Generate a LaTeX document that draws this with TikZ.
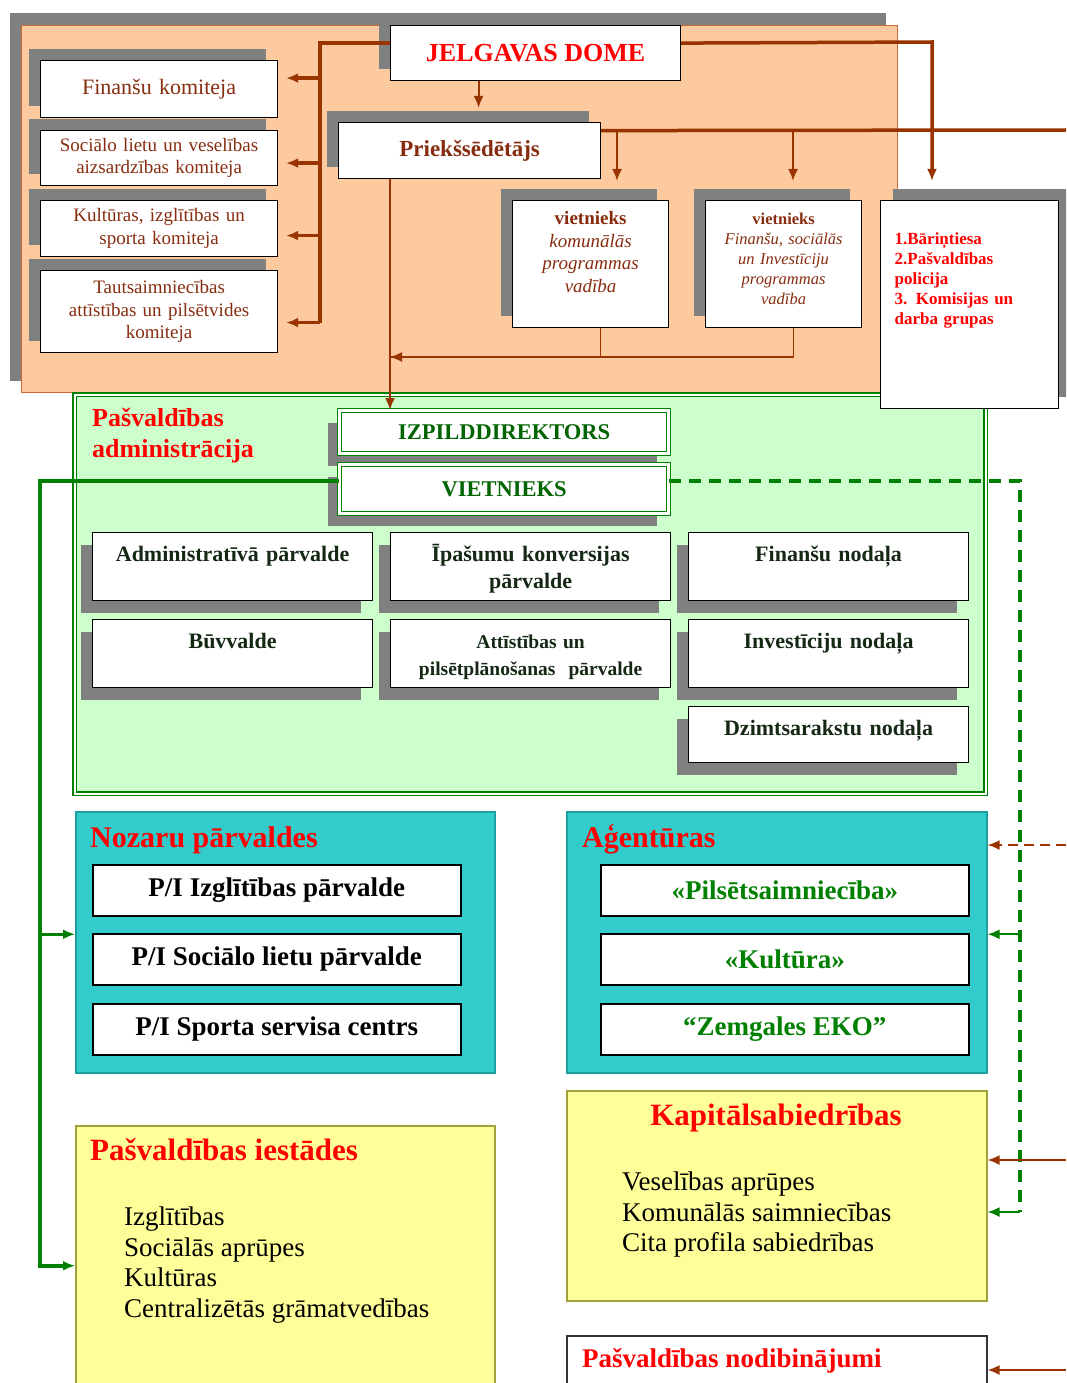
\documentclass[tikz,border=0pt]{standalone}
\usepackage{fontspec}
\setmainfont{Liberation Serif}
\usetikzlibrary{arrows.meta,positioning,shadows}

\definecolor{dombrown}{RGB}{153,51,0}
\definecolor{textbrown}{RGB}{135,45,15}
\definecolor{peach}{RGB}{252,202,158}
\definecolor{peachline}{RGB}{205,105,50}
\definecolor{shadowgray}{RGB}{128,128,128}
\definecolor{admgreen}{RGB}{204,255,204}
\definecolor{linegreen}{RGB}{0,128,0}
\definecolor{darkgreen}{RGB}{0,100,0}
\definecolor{admtext}{RGB}{20,40,20}
\definecolor{tealbg}{RGB}{51,204,204}
\definecolor{tealline}{RGB}{30,160,160}
\definecolor{paleyellow}{RGB}{255,255,153}
\definecolor{yellowline}{RGB}{160,160,60}
\definecolor{headred}{RGB}{255,0,0}

\tikzset{%
  >={Latex[width=10pt,length=12pt]},
  % Specifications for style of nodes:
        upshadow/.style = {general shadow={fill=shadowgray,
                           shadow xshift=-12pt, shadow yshift=12pt}},
      downshadow/.style = {general shadow={fill=shadowgray,
                           shadow xshift=-12pt, shadow yshift=-12pt}},
     rightshadow/.style = {general shadow={fill=shadowgray,
                           shadow xshift=12pt, shadow yshift=12pt}},
            base/.style = {rectangle, draw=black, fill=white, line width=1.2pt,
                           anchor=north west, align=center, inner sep=4pt},
          region/.style = {rectangle, anchor=north west, line width=1.5pt},
         council/.style = {base, upshadow, text=headred,
                           font=\fontsize{26}{30}\selectfont\bfseries},
           chair/.style = {base, upshadow, text=textbrown,
                           font=\fontsize{23}{27}\selectfont\bfseries},
        komiteja/.style = {base, upshadow, minimum width=237pt, text width=225pt,
                           text=textbrown, font=\fontsize{19}{22.5}\selectfont},
       vietnieks/.style = {base, upshadow, text width=148pt, text height=20pt,
                           text depth=99pt, text=textbrown},
             adm/.style = {base, downshadow, text width=270pt, inner sep=5pt,
                           text height=24pt, text depth=34pt, text=admtext,
                           font=\fontsize{22}{27}\selectfont\bfseries},
           chief/.style = {base, downshadow, draw=linegreen, double=white,
                           double distance=2.5pt, minimum width=329pt,
                           text=darkgreen,
                           font=\fontsize{22.5}{27}\selectfont\bfseries},
            unit/.style = {base, minimum width=368pt, minimum height=51pt,
                           line width=1.5pt,
                           font=\fontsize{27}{30}\selectfont\bfseries},
         heading/.style = {anchor=base west, inner sep=0pt, text=headred,
                           font=\fontsize{30}{33}\selectfont\bfseries},
            list/.style = {anchor=north west, inner sep=0pt, align=left,
                           font=\fontsize{27}{30.5}\selectfont},
  % Specifications for style of connectors:
       brownline/.style = {dombrown, line width=3.5pt},
        brownmid/.style = {dombrown, line width=2.2pt},
       brownthin/.style = {dombrown, line width=1.2pt},
       browndash/.style = {dombrown, line width=2.2pt, dash pattern=on 10pt off 6pt},
       greenline/.style = {linegreen, line width=3.5pt},
       greenstub/.style = {linegreen, line width=2.2pt},
       greendash/.style = {linegreen, line width=3.5pt, dash pattern=on 12pt off 8pt},
}

\begin{document}
\begin{tikzpicture}[x=1pt, y=-1pt]
\useasboundingbox (0,0) rectangle (1066,1383);
\clip (0,0) rectangle (1066,1383);

% dome
\node (DA) [region, upshadow, fill=peach, draw=peachline, line width=1pt,
            minimum width=876pt, minimum height=367pt] at (21,25) {};

\node (JD) [council, minimum width=290pt, minimum height=55pt] at (390,25) {JELGAVAS DOME};

\node (FK) [komiteja, minimum height=57pt, font=\fontsize{22}{26}\selectfont] at (40,60) {Finanšu komiteja};
\node (SK) [komiteja, minimum height=55pt] at (40,130) {Sociālo lietu un veselības\\aizsardzības komiteja};
\node (KK) [komiteja, minimum height=56pt] at (40,200) {Kultūras, izglītības un\\sporta komiteja};
\node (TK) [komiteja, minimum height=82pt] at (40,270) {Tautsaimniecības\\attīstības un pilsētvides\\komiteja};

\node (PR) [chair, minimum width=262pt, minimum height=56pt] at (338,122) {Priekšsēdētājs};

\node (VK) [vietnieks, font=\fontsize{19}{22.5}\selectfont] at (512,200)
      {\textbf{vietnieks}\\\textit{komunālās}\\\textit{programmas}\\\textit{vadība}};
\node (VF) [vietnieks, font=\fontsize{16.5}{20}\selectfont] at (705,200)
      {\textbf{vietnieks}\\\textit{Finanšu, sociālās}\\\textit{un Investīciju}\\\textit{programmas}\\\textit{vadība}};

\coordinate (KB) at (320,0);
\draw[brownline] ([yshift=10pt]JD.west) -| ([yshift=-11pt]TK.east -| KB);
\draw[brownline,->,shorten >=8pt] ([yshift=11pt]FK.east -| KB) -- ([yshift=11pt]FK.east);
\draw[brownline,->,shorten >=8pt] ([yshift=-5pt]SK.east -| KB) -- ([yshift=-5pt]SK.east);
\draw[brownline,->,shorten >=8pt] ([yshift=-7pt]KK.east -| KB) -- ([yshift=-7pt]KK.east);
\draw[brownline,->,shorten >=8pt] ([yshift=-11pt]TK.east -| KB) -- ([yshift=-11pt]TK.east);

\draw[brownmid,->,shorten >=14pt] ([xshift=9pt]PR.north |- JD.south) -- ([xshift=9pt]PR.north);

\coordinate (RT) at (1066,130);
\coordinate (V1) at (617,130);
\coordinate (V2) at (793,130);
\draw[brownline] ([yshift=20pt]PR.east) -- (RT);
\draw[brownmid,->,shorten >=19pt] (V1) -- (V1 |- VK.north);
\draw[brownmid,->,shorten >=19pt] (V2) -- (V2 |- VF.north);

\coordinate (VJ) at (390,357);
\draw[brownthin] ([xshift=10pt]VF.south) |- (VJ);
\draw[brownthin,->] ([xshift=10pt]VK.south) |- (VJ);

% administration
\node (PA) [region, fill=admgreen, draw=linegreen, line width=1.2pt, double=white,
            double distance=2pt, minimum width=911pt, minimum height=399pt] at (74,394) {};
\node (PAt) [heading, anchor=north west, align=left,
             font=\fontsize{26}{31}\selectfont\bfseries] at (92,408) {Pašvaldības\\administrācija};

\node (ID) [chief, minimum height=43pt] at (339,410) {IZPILDDIREKTORS};
\node (VN) [chief, minimum height=49pt] at (339,464) {VIETNIEKS};

\node (AP) [adm] at (92,532) {Administratīvā pārvalde};
\node (IP) [adm] at (390,532) {Īpašumu konversijas\\pārvalde};
\node (FN) [adm] at (688,532) {Finanšu nodaļa};
\node (BV) [adm] at (92,619) {Būvvalde};
\node (AT) [adm, font=\fontsize{19.5}{27}\selectfont\bfseries] at (390,619) {Attīstības un\\pilsētplānošanas~~pārvalde};
\node (IN) [adm] at (688,619) {Investīciju nodaļa};
\node (DN) [adm, text depth=22pt] at (688,706) {Dzimtsarakstu nodaļa};

\node (BT) [base, rightshadow, text width=150pt, inner xsep=14pt, text height=40pt,
            text depth=160pt, align=left, text=headred,
            font=\fontsize{17}{20}\selectfont\bfseries] at (880,200)
      {1.Bāriņtiesa\\2.Pašvaldības\\policija\\3. Komisijas un\\darba grupas};

\coordinate (BJ) at (932,42);
\draw[brownline,->,shorten >=19pt] ([yshift=10pt]JD.east) -- (BJ) -- (BJ |- BT.north);

\coordinate (PJ) at (390,0);
\draw[brownmid,->] (PR.south -| PJ) -- (PJ |- ID.north);

% nozaru and agentury
\node (NP) [region, fill=tealbg, draw=tealline, minimum width=419pt,
            minimum height=261pt] at (75,811) {};
\node (NPt) [heading] at (90,847) {Nozaru pārvaldes};
\node (IZ) [unit] at (92,864) {P/I Izglītības pārvalde};
\node (SO) [unit] at (92,933) {P/I Sociālo lietu pārvalde};
\node (SP) [unit] at (92,1003) {P/I Sporta servisa centrs};

\node (AG) [region, fill=tealbg, draw=tealline, minimum width=420pt,
            minimum height=261pt] at (566,811) {};
\node (AGt) [heading] at (582,847) {Aģentūras};
\node (PS) [unit, text=linegreen] at (600,864) {«Pilsētsaimniecība»};
\node (KU) [unit, text=linegreen] at (600,933) {«Kultūra»};
\node (ZE) [unit, text=linegreen] at (600,1003) {“Zemgales EKO”};

% iestades, sabiedribas, nodibinajumi
\node (KS) [region, fill=paleyellow, draw=yellowline, minimum width=420pt,
            minimum height=210pt] at (566,1090) {};
\node (KSt) [heading, anchor=base, font=\fontsize{31}{33}\selectfont\bfseries] at (776,1125) {Kapitālsabiedrības};
\node (KSl) [list] at (622,1172) {Veselības aprūpes\\Komunālās saimniecības\\Cita profila sabiedrības};

\node (PI) [region, fill=paleyellow, draw=yellowline, minimum width=419pt,
            minimum height=280pt] at (75,1125) {};
\node (PIt) [heading, font=\fontsize{31}{33}\selectfont\bfseries] at (90,1160) {Pašvaldības iestādes};
\node (PIl) [list] at (124,1207) {Izglītības\\Sociālās aprūpes\\Kultūras\\Centralizētās grāmatvedības};

\node (NO) [region, fill=white, draw=black!80, minimum width=420pt,
            minimum height=70pt] at (566,1335) {};
\node (NOt) [heading, font=\fontsize{27}{30}\selectfont\bfseries] at (582,1367) {Pašvaldības nodibinājumi};

% links from vietnieks
\coordinate (GB) at (40,0);
\draw[greenline,->] ([yshift=8pt]VN.west) -| (GB |- PI.west) -- (PI.west);
\draw[greenline,->] ([yshift=8pt]NP.west -| GB) -- ([yshift=8pt]NP.west);

\coordinate (KJ) at (1020,1212);
\draw[greendash] ([yshift=8pt]VN.east) -| (KJ);
\draw[greenstub,->] (KJ) -- (KJ -| KS.east);
\draw[greenstub,->] ([yshift=8pt]AG.east -| KJ) -- ([yshift=8pt]AG.east);

% links from the right
\coordinate (RA) at (1066,845);
\coordinate (RK) at (1066,1160);
\coordinate (RN) at (1066,1370);
\draw[browndash,->] (RA) -- (RA -| AG.east);
\draw[brownmid,->] (RK) -- (RK -| KS.east);
\draw[brownmid,->] (RN) -- (RN -| NO.east);
\end{tikzpicture}
\end{document}
